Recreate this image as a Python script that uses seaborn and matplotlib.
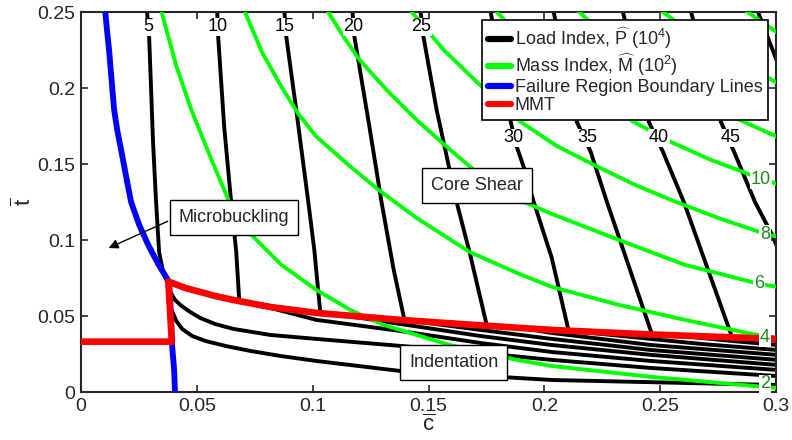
import seaborn as sns
import matplotlib.pyplot as plt
from matplotlib.lines import Line2D

# Load index contours (c-bar, t-bar)
p5_c = [0.0285, 0.0294, 0.0311, 0.0324, 0.0337, 0.0354, 0.0376, 0.0385, 0.0406, 0.0428, 0.0471, 0.0514, 0.0579, 0.0657, 0.0817, 0.1016, 0.1379, 0.1725, 0.2032, 0.2460, 0.3005]
p5_t = [0.2502, 0.2338, 0.1640, 0.1252, 0.0923, 0.0792, 0.0713, 0.0660, 0.0607, 0.0575, 0.0528, 0.0489, 0.0449, 0.0417, 0.0377, 0.0351, 0.0305, 0.0259, 0.0213, 0.0160, 0.0107]
p10_c = [0.0588, 0.0592, 0.0618, 0.0648, 0.0670, 0.0683, 0.0817, 0.1016, 0.1379, 0.1725, 0.2032, 0.2460, 0.3005]
p10_t = [0.2502, 0.2338, 0.1745, 0.1252, 0.0923, 0.0601, 0.0555, 0.0476, 0.0403, 0.0324, 0.0265, 0.0206, 0.0147]
p15_c = [0.0878, 0.0886, 0.0929, 0.0981, 0.1007, 0.1033, 0.1206, 0.1379, 0.1725, 0.2032, 0.2460, 0.3005]
p15_t = [0.2502, 0.2338, 0.1857, 0.1252, 0.0936, 0.0522, 0.0489, 0.0449, 0.0370, 0.0311, 0.0246, 0.0180]
p20_c = [0.1172, 0.1180, 0.1245, 0.1297, 0.1349, 0.1396, 0.1595, 0.1725, 0.2032, 0.2460, 0.3005]
p20_t = [0.2502, 0.2338, 0.1745, 0.1252, 0.0811, 0.0476, 0.0436, 0.0410, 0.0351, 0.0278, 0.0213]
p25_c = [0.1466, 0.1478, 0.1535, 0.1591, 0.1621, 0.1677, 0.1751, 0.1898, 0.2032, 0.2244, 0.2460, 0.3005]
p25_t = [0.2502, 0.2338, 0.1857, 0.1463, 0.1252, 0.0923, 0.0443, 0.0423, 0.0390, 0.0351, 0.0311, 0.0246]
p30_c = [0.1768, 0.1855, 0.1881, 0.1915, 0.1954, 0.2032, 0.2105, 0.2244, 0.2460, 0.2676, 0.3005]
p30_t = [0.2502, 0.1778, 0.1614, 0.1463, 0.1252, 0.0884, 0.0403, 0.0384, 0.0351, 0.0318, 0.0278]
p35_c = [0.2040, 0.2140, 0.2200, 0.2270, 0.2464, 0.2633, 0.2806, 0.3005]
p35_t = [0.2502, 0.1778, 0.1581, 0.1252, 0.0384, 0.0364, 0.0338, 0.0311]
p40_c = [0.2339, 0.2451, 0.2512, 0.2602, 0.2810, 0.2914, 0.3005]
p40_t = [0.2502, 0.1778, 0.1581, 0.1252, 0.0364, 0.0351, 0.0338]
p45_c = [0.2633, 0.2762, 0.2819, 0.2909, 0.2983, 0.3005]
p45_t = [0.2502, 0.1778, 0.1581, 0.1252, 0.1036, 0.0956]
p50_c = [0.2922, 0.3005]
p50_t = [0.2502, 0.2173]
p_low_c = [0.0393, 0.0411, 0.0437, 0.0480, 0.0536, 0.0623, 0.0731, 0.0860, 0.1016, 0.1379, 0.2032, 0.3005]
p_low_t = [0.0535, 0.0469, 0.0416, 0.0370, 0.0338, 0.0305, 0.0272, 0.0239, 0.0206, 0.0140, 0.0081, 0.0048]

# Mass index contours
m2_c = [0.0346, 0.0411, 0.0476, 0.0558, 0.0640, 0.0735, 0.0865, 0.1016, 0.1163, 0.1306, 0.1591, 0.1881, 0.2032, 0.2464, 0.2953, 0.3005]
m2_t = [0.2510, 0.2147, 0.1857, 0.1548, 0.1252, 0.1036, 0.0838, 0.0673, 0.0541, 0.0443, 0.0311, 0.0213, 0.0173, 0.0101, 0.0035, 0.0028]
m4_c = [0.0705, 0.0782, 0.0865, 0.0938, 0.1016, 0.1159, 0.1284, 0.1448, 0.1677, 0.1881, 0.2032, 0.2321, 0.2607, 0.2896, 0.3005]
m4_t = [0.2510, 0.2233, 0.2009, 0.1831, 0.1680, 0.1489, 0.1331, 0.1147, 0.0923, 0.0785, 0.0693, 0.0575, 0.0476, 0.0384, 0.0357]
m6_c = [0.1063, 0.1133, 0.1202, 0.1323, 0.1448, 0.1574, 0.1695, 0.1803, 0.1911, 0.2032, 0.2321, 0.2607, 0.2927, 0.3005]
m6_t = [0.2510, 0.2338, 0.2186, 0.1982, 0.1792, 0.1620, 0.1463, 0.1351, 0.1252, 0.1173, 0.1002, 0.0838, 0.0713, 0.0693]
m8_c = [0.1422, 0.1565, 0.1712, 0.1898, 0.2053, 0.2213, 0.2391, 0.2568, 0.2762, 0.2953, 0.3005]
m8_t = [0.2510, 0.2252, 0.2035, 0.1778, 0.1620, 0.1496, 0.1364, 0.1252, 0.1140, 0.1042, 0.1022]
m10_c = [0.1790, 0.1928, 0.2071, 0.2231, 0.2386, 0.2546, 0.2719, 0.2892, 0.3005]
m10_t = [0.2510, 0.2278, 0.2088, 0.1923, 0.1778, 0.1646, 0.1528, 0.1429, 0.1370]
m12_c = [0.2144, 0.2300, 0.2460, 0.2654, 0.2862, 0.3005]
m12_t = [0.2510, 0.2285, 0.2088, 0.1923, 0.1778, 0.1680]
m14_c = [0.2503, 0.2633, 0.2762, 0.3005]
m14_t = [0.2510, 0.2364, 0.2240, 0.2035]
m16_c = [0.2868, 0.3005]
m16_t = [0.2510, 0.2365]

# Failure region boundary and minimum mass trajectory
blue_c = [0.0104, 0.0112, 0.0121, 0.0130, 0.0143, 0.0156, 0.0173, 0.0195, 0.0216, 0.0251, 0.0290, 0.0333, 0.0380, 0.0385, 0.0389, 0.0393, 0.0402, 0.0406]
blue_t = [0.2515, 0.2383, 0.2252, 0.2088, 0.1857, 0.1726, 0.1594, 0.1417, 0.1252, 0.1101, 0.0969, 0.0844, 0.0726, 0.0607, 0.0476, 0.0311, 0.0147, -0.0018]
mmt_c = [0.0000, 0.0392, 0.0377, 0.0450, 0.0514, 0.0579, 0.0657, 0.0817, 0.1016, 0.1379, 0.1725, 0.2032, 0.2460, 0.3005]
mmt_t = [0.0333, 0.0333, 0.0728, 0.0686, 0.0660, 0.0633, 0.0607, 0.0561, 0.0522, 0.0476, 0.0440, 0.0410, 0.0380, 0.0351]

# contour labels
p_labels = ['5', '10', '15', '20', '25', '30', '35', '40', '45']
p_label_c = [0.0290, 0.0592, 0.0878, 0.1176, 0.1470, 0.1868, 0.2187, 0.2494, 0.2806]
p_label_t = [0.2403, 0.2403, 0.2403, 0.2403, 0.2403, 0.1672, 0.1672, 0.1672, 0.1672]
m_labels = ['10', '8', '6', '4', '2']
m_label_c = [0.2935, 0.2953, 0.2927, 0.2953, 0.2953]
m_label_t = [0.1396, 0.1040, 0.0713, 0.0357, 0.0055]

x_ticks = [0, 0.05, 0.1, 0.15, 0.2, 0.25, 0.3]
x_tick_labels = ['0', '0.05', '0.1', '0.15', '0.2', '0.25', '0.3']
y_ticks = [0, 0.05, 0.1, 0.15, 0.2, 0.25]
y_tick_labels = ['0', '0.05', '0.1', '0.15', '0.2', '0.25']

legend_labels = [r'Load Index, $\widehat{\mathrm{P}}$ (10$^4$)',
                 r'Mass Index, $\widehat{\mathrm{M}}$ (10$^2$)',
                 'Failure Region Boundary Lines',
                 'MMT']

sns.set_style("ticks")
plt.rcParams['font.family'] = ['Liberation Sans', 'DejaVu Sans']
plt.rcParams['mathtext.fontset'] = 'custom'
plt.rcParams['mathtext.rm'] = 'Liberation Sans'
plt.rcParams['mathtext.it'] = 'Liberation Sans:italic'

fig = plt.figure(figsize=(7.92, 4.4), dpi=100)
ax = fig.add_axes([0.1023, 0.1084, 0.8775, 0.8643])

load_lines = [(p5_c, p5_t), (p10_c, p10_t), (p15_c, p15_t), (p20_c, p20_t), (p25_c, p25_t),
              (p30_c, p30_t), (p35_c, p35_t), (p40_c, p40_t), (p45_c, p45_t), (p50_c, p50_t),
              (p_low_c, p_low_t)]
mass_lines = [(m2_c, m2_t), (m4_c, m4_t), (m6_c, m6_t), (m8_c, m8_t), (m10_c, m10_t),
              (m12_c, m12_t), (m14_c, m14_t), (m16_c, m16_t)]

for c, t in load_lines:
    sns.lineplot(x=c, y=t, sort=False, estimator=None, color='black', lw=2.8, ax=ax, zorder=2)
for c, t in mass_lines:
    sns.lineplot(x=c, y=t, sort=False, estimator=None, color='#00ff00', lw=2.8, ax=ax, zorder=3)
sns.lineplot(x=blue_c, y=blue_t, sort=False, estimator=None, color='#0000ff', lw=4.2, ax=ax, zorder=4)
sns.lineplot(x=mmt_c, y=mmt_t, sort=False, estimator=None, color='#ff0000', lw=4.8, ax=ax, zorder=5)

for lab, c, t in zip(p_labels, p_label_c, p_label_t):
    ax.text(c, t, lab, ha='center', va='center', fontsize=13, color='black', zorder=6,
            bbox=dict(facecolor='white', edgecolor='none', pad=0.5))
for lab, c, t in zip(m_labels, m_label_c, m_label_t):
    ax.text(c, t, lab, ha='center', va='center', fontsize=13, color='#1e8c1e', zorder=6,
            bbox=dict(facecolor='white', edgecolor='none', pad=0.5))

box = dict(facecolor='white', edgecolor='black', lw=1.0, pad=6.5)
ax.text(0.0661, 0.1147, 'Microbuckling', ha='center', va='center', fontsize=13, bbox=box, zorder=7)
ax.text(0.1708, 0.1357, 'Core Shear', ha='center', va='center', fontsize=13, bbox=box, zorder=7)
ax.text(0.1608, 0.0193, 'Indentation', ha='center', va='center', fontsize=13, bbox=box, zorder=7)
ax.annotate('', xy=(0.0108, 0.0941), xytext=(0.0385, 0.1132),
            arrowprops=dict(arrowstyle='-|>', color='black', lw=1.0, mutation_scale=14), zorder=7)

ax.set_xlim(0, 0.3)
ax.set_ylim(0, 0.25)
ax.set_xticks(x_ticks)
ax.set_xticklabels(x_tick_labels)
ax.set_yticks(y_ticks)
ax.set_yticklabels(y_tick_labels)
ax.tick_params(direction='in', top=True, right=True, length=5, width=1.2, labelsize=14, pad=4)
for s in ax.spines.values():
    s.set_linewidth(1.5)
    s.set_visible(True)
ax.set_xlabel(r'$\overline{\mathrm{c}}$', fontsize=16, labelpad=0)
ax.set_ylabel(r'$\overline{\mathrm{t}}$', fontsize=16, labelpad=1)

handles = [Line2D([], [], color='black', lw=4.5),
           Line2D([], [], color='#00ff00', lw=4.5),
           Line2D([], [], color='#0000ff', lw=4.5),
           Line2D([], [], color='#ff0000', lw=4.5)]
leg = ax.legend(handles, legend_labels, loc='upper right', fontsize=13, handlelength=1.3,
                handletextpad=0.2, labelspacing=0.05, borderaxespad=0.45, borderpad=0.3,
                fancybox=False, edgecolor='black', framealpha=1)
leg.get_frame().set_linewidth(1.2)
leg.set_zorder(10)

fig.savefig('out.png', dpi=100)
